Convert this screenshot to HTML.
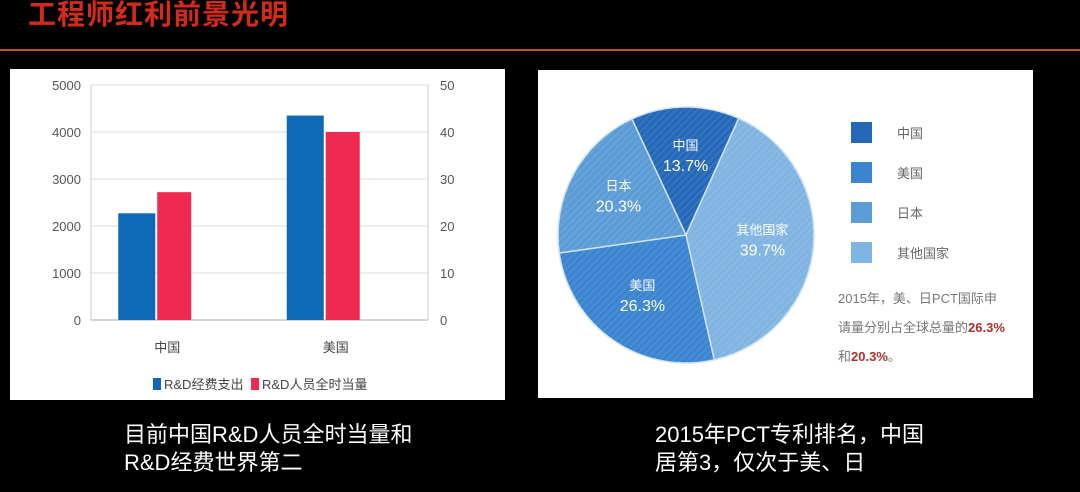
<!DOCTYPE html>
<html><head><meta charset="utf-8"><style>
html,body{margin:0;padding:0;background:#000;}
body{width:1080px;height:492px;position:relative;overflow:hidden;font-family:"Liberation Sans","Noto Sans CJK SC",sans-serif;}
.abs{position:absolute;}
.cap{color:#fff;font-size:22px;line-height:28px;}
</style></head><body>
<div class="abs" style="left:28px;top:-7px;color:#d42a1e;font-size:28px;font-weight:bold;letter-spacing:1px;">工程师红利前景光明</div>
<div class="abs" style="left:0;top:49px;width:1080px;height:2px;background:#c0502a;"></div>

<svg class="abs" style="left:10px;top:69px" width="495" height="331">
<rect width="495" height="331" fill="#fff"/>
<g id="bars"></g>
</svg>

<svg class="abs" style="left:538px;top:70px" width="495" height="328">
<defs><pattern id="st" width="5" height="5" patternUnits="userSpaceOnUse" patternTransform="rotate(45)"><rect width="2" height="5" fill="rgba(255,255,255,0.08)"/></pattern></defs>
<rect width="495" height="328" fill="#fff"/>
<g id="pie"></g>
<text x="300" y="233" font-size="13" fill="#777">2015年，美、日PCT国际申</text>
<text x="300" y="262" font-size="13" fill="#777">请量分别占全球总量的<tspan fill="#b0302a" font-weight="bold">26.3%</tspan></text>
<text x="300" y="291" font-size="13" fill="#777">和<tspan fill="#b0302a" font-weight="bold">20.3%</tspan>。</text>
</svg>

<div class="abs cap" style="left:124px;top:421px;">目前中国R&amp;D人员全时当量和<br>R&amp;D经费世界第二</div>
<div class="abs cap" style="left:655px;top:421px;">2015年PCT专利排名，中国<br>居第3，仅次于美、日</div>

<script>
const categories=["中国","美国"];
const spending=[2270,4350];
const personnel=[27.2,40.0];
const leftTicks=[0,1000,2000,3000,4000,5000];
const rightTicks=[0,10,20,30,40,50];
const pieLabels=["中国","其他国家","美国","日本"];
const pieValues=[13.7,39.7,26.3,20.3];
const legendOrder=["中国","美国","日本","其他国家"];

const NS="http://www.w3.org/2000/svg";
function mk(t,a,p,txt){const e=document.createElementNS(NS,t);for(const k in a)e.setAttribute(k,a[k]);if(txt!==undefined)e.textContent=txt;p.appendChild(e);return e;}

const g=document.getElementById('bars');
const x0=81,x1=418,yTop=16,yBot=251;
const yL=v=>yBot-(v/5000)*(yBot-yTop);
const yR=v=>yBot-(v/50)*(yBot-yTop);
leftTicks.forEach((t,i)=>{
  const y=yL(t);
  const gl=mk('line',{x1:x0,x2:x1,y1:y,y2:y,stroke:i?'#ddd':'#aaa','stroke-width':1},g);
  
  const tl=mk('text',{x:x0-10,y:y+5,'text-anchor':'end','font-size':13,fill:'#555'},g,t);
  
});
rightTicks.forEach(t=>{
  const y=yR(t);
  const tl=mk('text',{x:x1+12,y:y+5,'font-size':13,fill:'#555'},g,t);
  
});
mk('line',{x1:x0,x2:x0,y1:yTop,y2:yBot,stroke:'#ccc'},g);
mk('line',{x1:x1,x2:x1,y1:yTop,y2:yBot,stroke:'#ccc'},g);
const cw=(x1-x0)/categories.length;
categories.forEach((c,i)=>{
  const cx=x0+cw*(i+0.5);
  const b1=mk('rect',{x:cx-57,y:yL(spending[i]),width:37,height:yBot-yL(spending[i]),fill:'#0e6ab8'},g);
  
  const b2=mk('rect',{x:cx-18,y:yR(personnel[i]),width:34,height:yBot-yR(personnel[i]),fill:'#ee2a52'},g);
  
  const cl=mk('text',{x:cx-8,y:283,'text-anchor':'middle','font-size':13,fill:'#444'},g,c);
  
});
const l1=mk('rect',{x:143,y:309,width:8,height:12,fill:'#0e6ab8'},g);

const l1t=mk('text',{x:154,y:320,'font-size':13,fill:'#444'},g,'R&D经费支出');

const l2=mk('rect',{x:241,y:309,width:8,height:12,fill:'#ee2a52'},g);

const l2t=mk('text',{x:252,y:320,'font-size':13,fill:'#444'},g,'R&D人员全时当量');


const pg=document.getElementById('pie');
const colors={"中国":"#2468b8","美国":"#3a84d0","日本":"#5b9bd6","其他国家":"#80b4e2"};
const cx=148,cy=165,r=128;
const total=pieValues.reduce((a,b)=>a+b,0);
let ang=-25;
pieLabels.forEach((lab,i)=>{
  const span=pieValues[i]/total*360;
  const a0=(ang-90)*Math.PI/180,a1=(ang+span-90)*Math.PI/180;
  const d=`M${cx},${cy} L${cx+r*Math.cos(a0)},${cy+r*Math.sin(a0)} A${r},${r} 0 ${span>180?1:0} 1 ${cx+r*Math.cos(a1)},${cy+r*Math.sin(a1)} Z`;
  const s=mk('path',{d:d,fill:colors[lab],stroke:'#cfe3f5','stroke-width':1.5},pg);
  
  mk('path',{d:d,fill:'url(#st)'},pg);
  const mid=(ang+span/2-90)*Math.PI/180;
  const lr=r*0.6;
  const tx=cx+lr*Math.cos(mid),ty=cy+lr*Math.sin(mid);
  const t1=mk('text',{x:tx,y:ty-8,'text-anchor':'middle','font-size':13,fill:'#fff'},pg,lab);
  
  const t2=mk('text',{x:tx,y:ty+13,'text-anchor':'middle','font-size':16,fill:'#fff'},pg,pieValues[i].toFixed(1)+'%');
  
  ang+=span;
});
legendOrder.forEach((lab,i)=>{
  const y=52+i*40;
  const sw=mk('rect',{x:313,y:y,width:21,height:21,fill:colors[lab]},pg);
  
  const lt=mk('text',{x:359,y:y+16,'font-size':13,fill:'#666'},pg,lab);
  
});
</script>
</body></html>
